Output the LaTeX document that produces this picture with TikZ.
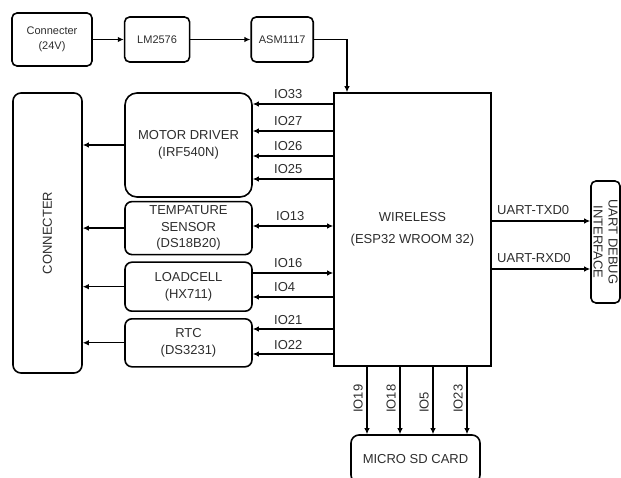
\documentclass[tikz,border=0pt]{standalone}
\usepackage{fontspec}
\setmainfont{Liberation Sans}
\usetikzlibrary{arrows.meta, positioning}
\definecolor{textgray}{RGB}{45,45,45}

\begin{document}
\begin{tikzpicture}[
  x=1pt, y=1pt,
  block/.style={
    draw,
    rounded corners=7pt,
    line width=1.6pt,
    align=center,
    inner sep=1pt,
    text=textgray,
    font=\fontsize{13}{16.5}\selectfont
  },
  small/.style={block, rounded corners=5pt, minimum height=45pt, font=\fontsize{11}{15}\selectfont},
  module/.style={block, minimum width=127pt},
  pinlbl/.style={inner sep=1pt, text=textgray, align=center, font=\fontsize{13}{15}\selectfont},
  arrow/.style={-{Latex[length=6pt, width=5.5pt]}, line width=1.2pt},
  twoway/.style={{Latex[length=6pt, width=5.5pt]}-{Latex[length=6pt, width=5.5pt]}, line width=1.2pt}
]
\useasboundingbox (0,0) rectangle (621,477);
% power supply chain
\node[small, minimum width=80pt, minimum height=53pt] (conn24) at (52,437.5) {Connecter\\(24V)};
\node[small, minimum width=65pt, right=31pt of conn24] (lm) {LM2576};
\node[small, minimum width=62pt, right=60pt of lm] (asm) {ASM1117};
% controller
\node[block, rounded corners=0pt, minimum width=157pt, minimum height=273pt] (esp) at (412.5,247.5)
  {WIRELESS\\[5.5pt](ESP32 WROOM 32)};
% peripherals
\node[module, rounded corners=12pt, minimum height=104pt] (motor) at (188.5,332) {MOTOR DRIVER\\(IRF540N)};
\node[module, minimum height=53pt, below=3pt of motor] (temp) {TEMPATURE\\SENSOR\\(DS18B20)};
\node[module, minimum height=49pt, below=6pt of temp] (load) {LOADCELL\\(HX711)};
\node[module, minimum height=48pt, below=6pt of load] (rtc) {RTC\\(DS3231)};
\node[block, rounded corners=8pt, minimum width=69pt, minimum height=280pt] (conn) at (47.5,244) {};
\node[pinlbl, rotate=90] (connlbl) at (conn.center) {CONNECTER};
\node[block, rounded corners=5pt, minimum width=29pt, minimum height=122pt] (uart) at (605.5,235) {};
\node[pinlbl, rotate=-90] (uartlbl) at (uart.center) {UART DEBUG\\INTERFACE};
\node[block, rounded corners=8pt, minimum width=129pt, minimum height=48pt] (sd) at (415.5,18) {MICRO SD CARD};

\draw[arrow] (conn24) -- (lm);
\draw[arrow] (lm) -- (asm);
\draw[arrow] (asm.east) -| (esp.north -| 347,0);

% esp32 pins
\foreach \y/\iolabel in {373/IO33, 346/IO27, 321/IO26, 298/IO25} {
  \draw[arrow] (esp.west |- 0,\y) -- (motor.east |- 0,\y);
  \node[pinlbl, anchor=base west] at (273,\y+5) {\iolabel};
}
\draw[twoway] (temp.east |- 0,251) -- (esp.west |- 0,251);
\node[pinlbl, anchor=base west] at (275,256) {IO13};
\draw[arrow] (load.east |- 0,204) -- (esp.west |- 0,204);
\node[pinlbl, anchor=base west] at (273,209) {IO16};
\draw[arrow] (esp.west |- 0,180) -- (load.east |- 0,180);
\node[pinlbl, anchor=base west] at (273,185) {IO4};
\foreach \y/\iolabel in {148/IO21, 123/IO22} {
  \draw[arrow] (esp.west |- 0,\y) -- (rtc.east |- 0,\y);
  \node[pinlbl, anchor=base west] at (273,\y+5) {\iolabel};
}
\foreach \m in {motor, temp, load, rtc}
  \draw[arrow] (\m.west) -- (conn.east |- \m.west);

% uart
\draw[arrow] (esp.east |- 0,256) -- (uart.west |- 0,256);
\node[pinlbl, anchor=base west] at (496,262) {UART-TXD0};
\draw[arrow] (esp.east |- 0,208) -- (uart.west |- 0,208);
\node[pinlbl, anchor=base west] at (496,214) {UART-RXD0};

% sd card
\foreach \x/\iolabel in {367/IO19, 400/IO18, 433/IO5, 467/IO23} {
  \draw[arrow] (esp.south -| \x,0) -- (sd.north -| \x,0);
  \node[pinlbl, rotate=90, anchor=south west] at (\x-3,63) {\iolabel};
}
\end{tikzpicture}
\end{document}
